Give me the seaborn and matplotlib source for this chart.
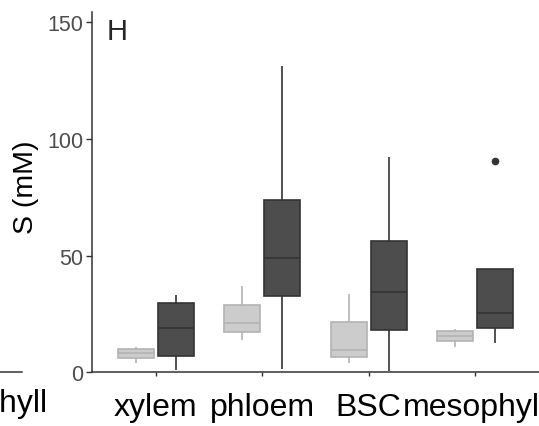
import matplotlib
matplotlib.use('Agg')
import matplotlib.pyplot as plt
import seaborn as sns
import pandas as pd

# Tissues on the x axis and the two groups (dodged boxes)
tissues = ['xylem', 'phloem', 'BSC', 'mesophyll']
groups = ['control', 'treated']

# S concentration (mM) per tissue
control_S = [
    [4.0, 6.1, 8.1, 10.0, 10.7],
    [13.8, 17.4, 21.3, 29.0, 36.8],
    [3.9, 6.4, 9.6, 21.7, 33.6],
    [10.7, 13.4, 15.7, 17.6, 18.6],
]
treated_S = [
    [1.1, 6.9, 18.9, 29.7, 33.3],
    [1.4, 32.8, 49.0, 73.9, 131.2],
    [0.7, 18.3, 34.3, 56.4, 92.2],
    [12.4, 15.0, 19.0, 22.0, 25.3, 35.0, 44.3, 44.3, 90.6],
]

rows = []
for g, vals in zip(groups, [control_S, treated_S]):
    for t, obs in zip(tissues, vals):
        for v in obs:
            rows.append({'tissue': t, 'group': g, 'S': v})
df = pd.DataFrame(rows)

sns.set_style('ticks')
plt.rcParams['font.family'] = ['Liberation Sans', 'DejaVu Sans']

fill_colors = {'control': '#cccccc', 'treated': '#4d4d4d'}
line_colors = {'control': '#b3b3b3', 'treated': '#333333'}

fig = plt.figure(figsize=(5.39, 4.27), dpi=100)
ax = fig.add_axes([92 / 539, 53.7 / 427, 447 / 539, 360 / 427])

# one call per group so each can have its own line colour
for g in groups:
    sns.boxplot(data=df[df['group'] == g], x='tissue', y='S', hue='group',
                order=tissues, hue_order=groups, palette=fill_colors,
                dodge=True, width=0.75, gap=0.1, linecolor=line_colors[g],
                linewidth=1.2, saturation=1, fliersize=4.5, showcaps=False,
                flierprops=dict(marker='o', markerfacecolor='#333333',
                                markeredgecolor='#333333'),
                legend=False, ax=ax)

ax.set_xlim(-0.6, 3.6)
ax.set_ylim(0, 154.3)
ax.set_yticks([0, 50, 100, 150])
ax.set_xlabel('')
ax.set_ylabel('S (mM)', fontsize=20.5, color='black')
ax.yaxis.label.set_va('center')
ax.yaxis.set_label_coords(-0.148, 0.516)
ax.tick_params(axis='y', labelsize=15.5, labelcolor='#4d4d4d', length=4.5,
               width=1, color='#333333', pad=1.5)
ax.tick_params(axis='x', labelsize=23, labelcolor='black', length=3,
               width=1, color='#333333', pad=11)
for s in ['top', 'right']:
    ax.spines[s].set_visible(False)
for s in ['left', 'bottom']:
    ax.spines[s].set_color('#333333')
    ax.spines[s].set_linewidth(1.1)
ax.patch.set_alpha(0)

# panel letter
fig.text(107 / 539, 1 - 18 / 427, 'H', fontsize=21, va='top', ha='left')

# edge of the neighbouring panel on the left (cut off): only its last label shows
nb = fig.add_axes([-300 / 539, 53.7 / 427, 322 / 539, 360 / 427])
nb.set_xlim(-0.6, 3.6)
nb.set_ylim(0, 154.3)
nb.set_xticks([len(tissues) - 1])
nb.set_xticklabels([tissues[-1]])
nb.set_yticks([])
nb.tick_params(axis='x', labelsize=23, labelcolor='black', length=3,
               width=1, color='#333333', pad=8)
for s in ['top', 'right', 'left']:
    nb.spines[s].set_visible(False)
nb.spines['bottom'].set_color('#333333')
nb.spines['bottom'].set_linewidth(1.1)
nb.patch.set_alpha(0)

fig.savefig('out.png', dpi=100)
